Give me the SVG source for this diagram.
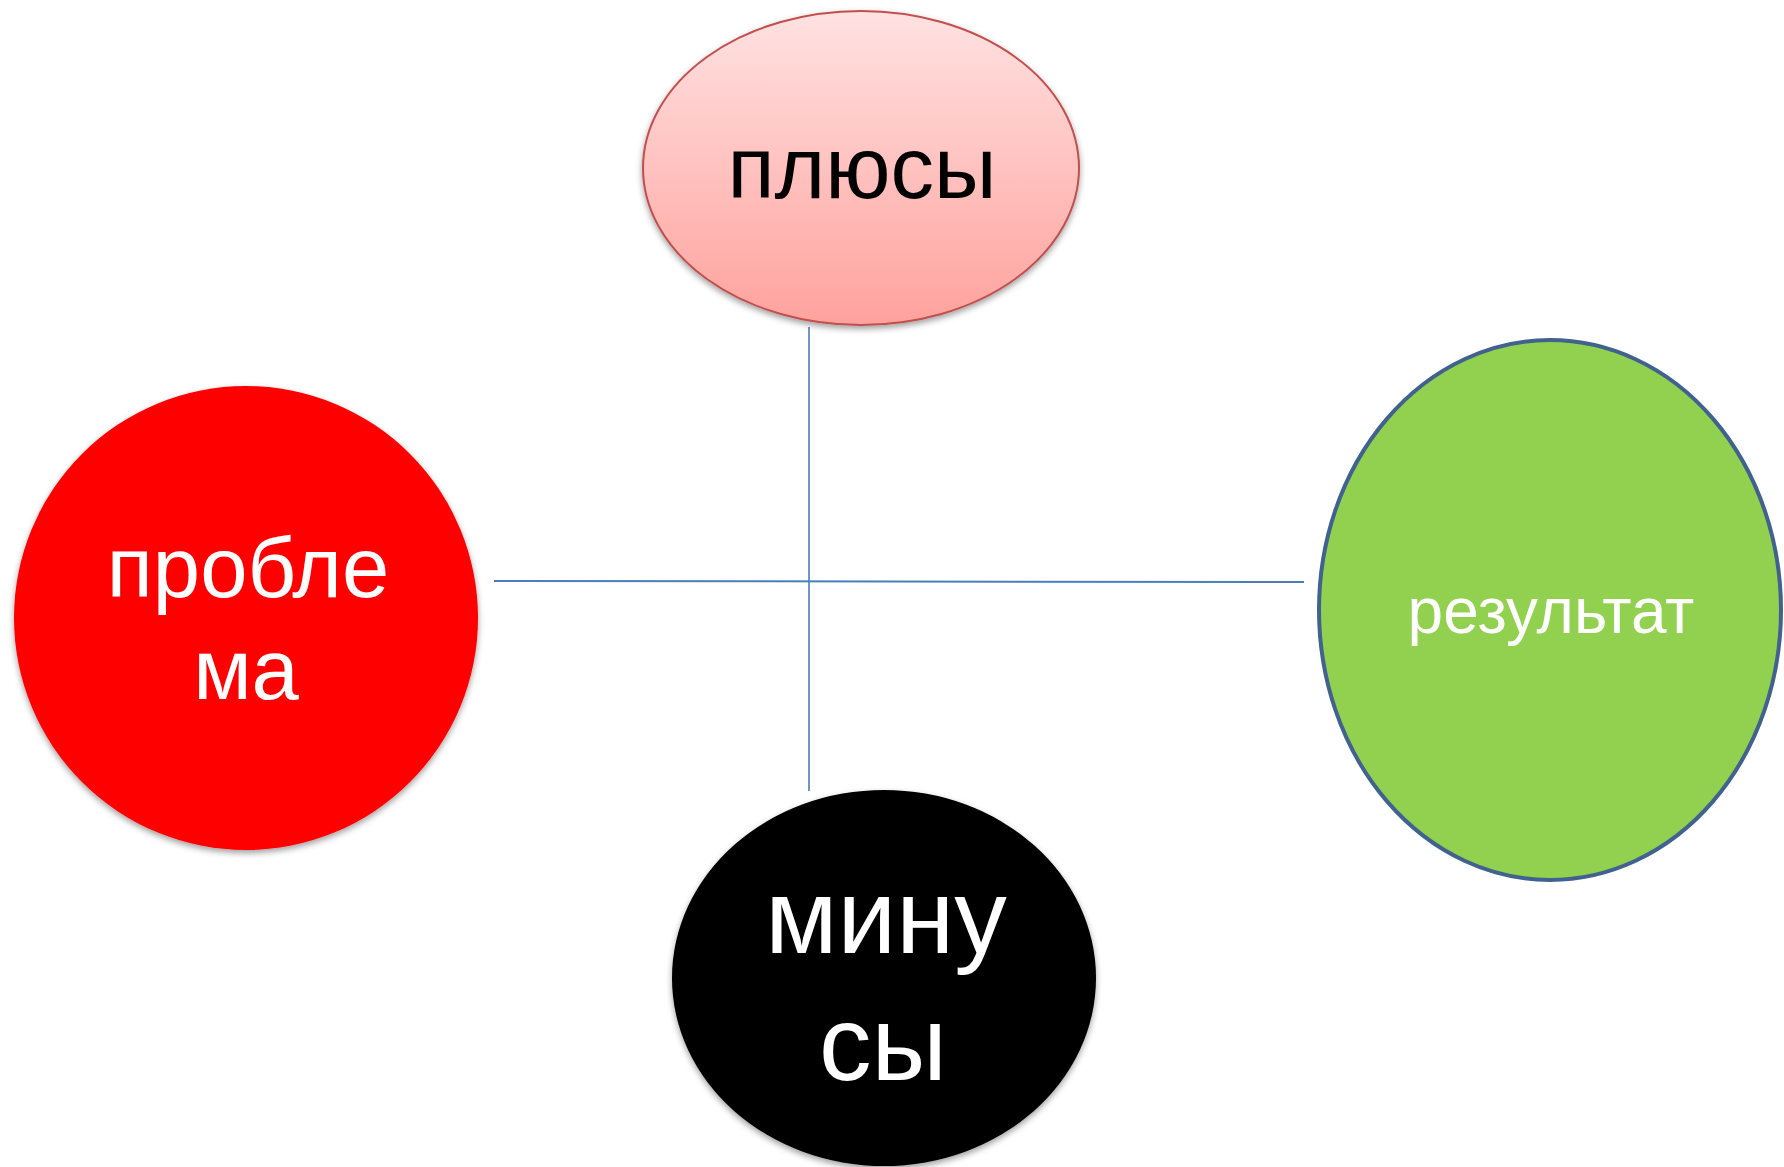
<svg xmlns="http://www.w3.org/2000/svg" width="1784" height="1167" viewBox="0 0 1784 1167">
  <defs>
    <linearGradient id="pinkFill" x1="0" y1="0" x2="0" y2="1">
      <stop offset="0" stop-color="#ffe2e2"/>
      <stop offset="1" stop-color="#ffa29d"/>
    </linearGradient>
    <filter id="softShadow" x="-10%" y="-10%" width="120%" height="125%">
      <feDropShadow dx="0" dy="3" stdDeviation="3" flood-color="#000" flood-opacity="0.38"/>
    </filter>
  </defs>
  <style>
    text { font-family: "Liberation Sans", Arial, sans-serif; text-anchor: middle; }
    .link { stroke: #4a7ebb; fill: none; }
  </style>

  <rect width="1784" height="1167" fill="#ffffff"/>

  <!-- connectors -->
  <g id="connectors">
    <line class="link" x1="809" y1="327" x2="809" y2="791" stroke-width="1.6"/>
    <line class="link" x1="494" y1="581" x2="1304" y2="582" stroke-width="2"/>
  </g>

  <!-- top: pros -->
  <g id="node-plusy">
    <ellipse cx="861" cy="168" rx="218" ry="157" fill="url(#pinkFill)" stroke="#c0504d" stroke-width="2" filter="url(#softShadow)"/>
    <text x="862" y="198" font-size="87" fill="#000000">плюсы</text>
  </g>

  <!-- left: problem -->
  <g id="node-problema">
    <circle cx="246" cy="618" r="232" fill="#ff0000" filter="url(#softShadow)"/>
    <text x="248" y="597" font-size="85" fill="#ffffff">пробле</text>
    <text x="246" y="699" font-size="85" fill="#ffffff">ма</text>
  </g>

  <!-- right: result -->
  <g id="node-rezultat">
    <ellipse cx="1550" cy="610" rx="231" ry="270" fill="#92d050" stroke="#41618f" stroke-width="4"/>
    <text x="1551" y="633" font-size="64" fill="#ffffff">результат</text>
  </g>

  <!-- bottom: cons -->
  <g id="node-minusy">
    <ellipse cx="884" cy="978" rx="212" ry="188" fill="#000000" filter="url(#softShadow)"/>
    <text x="886" y="953" font-size="105" fill="#ffffff">мину</text>
    <text x="883" y="1080" font-size="105" fill="#ffffff">сы</text>
  </g>
</svg>
